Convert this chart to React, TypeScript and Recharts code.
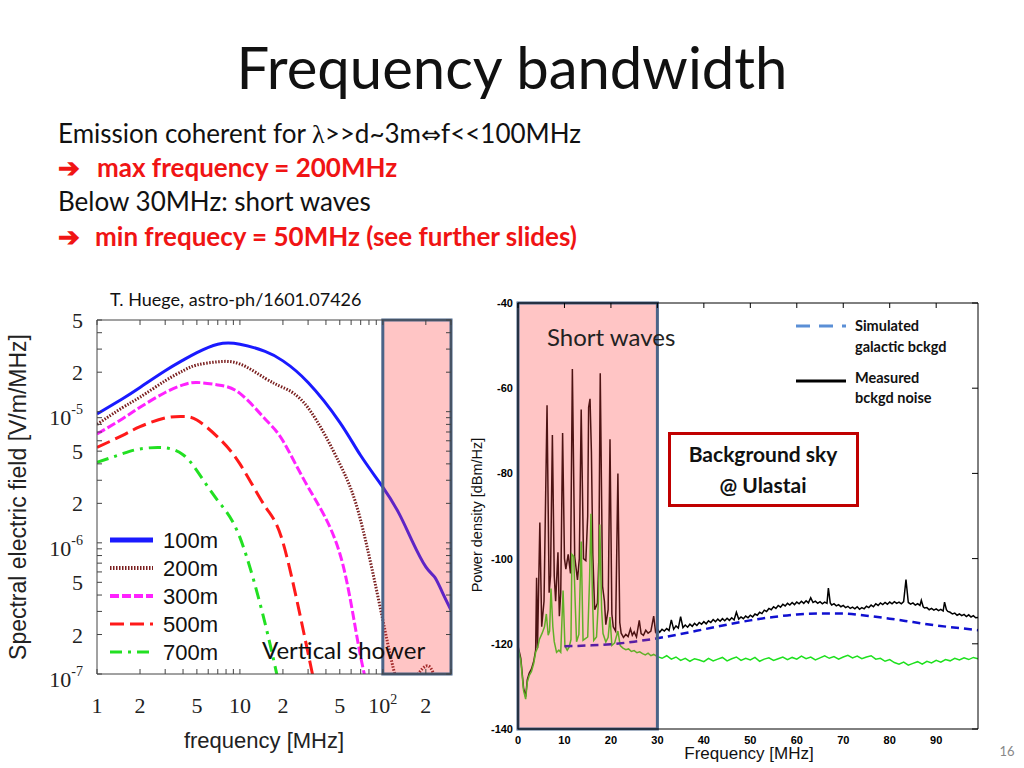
import React from 'react'
import { LineChart, Line, XAxis, YAxis, ReferenceArea, Legend } from 'recharts'

// ---- left plot: radio spectra of a vertical shower (T. Huege), log-log ----
const huegeFreq = [1, 1.5, 2, 3, 4, 5, 7, 10, 15, 20, 30, 50, 70, 100, 130, 160, 200, 230, 260, 300]
const field100m = [9.6e-6, 1.25e-5, 1.53e-5, 2.05e-5, 2.47e-5, 2.82e-5, 3.27e-5, 3.27e-5, 2.88e-5, 2.44e-5, 1.67e-5, 8.3e-6, 4.63e-6, 2.66e-6, 1.67e-6, 1.04e-6, 6.55e-7, 5.5e-7, 4.23e-7, 3.07e-7]
const field200m = [8.0e-6, 1.07e-5, 1.29e-5, 1.72e-5, 2.05e-5, 2.27e-5, 2.4e-5, 2.31e-5, 1.8e-5, 1.53e-5, 1.07e-5, 4.0e-6, 1.48e-6, 2.58e-7, 8e-8, 8.5e-8, 1.15e-7, 9.5e-8, 6e-8, 4e-8]
const field300m = [6.76e-6, 8.8e-6, 1.08e-5, 1.4e-5, 1.6e-5, 1.67e-5, 1.6e-5, 1.38e-5, 8.8e-6, 6.0e-6, 2.66e-6, 8.3e-7, 1.35e-7, 3e-8, null, null, null, null, null, null]
const field500m = [5.35e-6, 6.57e-6, 7.69e-6, 8.95e-6, 9.2e-6, 8.65e-6, 6.4e-6, 4.0e-6, 1.9e-6, 1.01e-6, 1.44e-7, 1e-8, null, null, null, null, null, null, null, null]
const field700m = [4.11e-6, 4.77e-6, 5.2e-6, 5.3e-6, 4.7e-6, 3.55e-6, 2.1e-6, 1.1e-6, 2.43e-7, 6e-8, null, null, null, null, null, null, null, null, null, null]

const huegeTicksX = [1, 2, 5, 10, 20, 50, 100, 200]
const huegeMinorX = [1, 2, 3, 4, 5, 6, 7, 8, 9, 10, 20, 30, 40, 50, 60, 70, 80, 90, 100, 200, 300]
const huegeTicksY = [1e-7, 2e-7, 5e-7, 1e-6, 2e-6, 5e-6, 1e-5, 2e-5, 5e-5]
const huegeMinorY = [
  1e-7, 2e-7, 3e-7, 4e-7, 5e-7, 6e-7, 7e-7, 8e-7, 9e-7,
  1e-6, 2e-6, 3e-6, 4e-6, 5e-6, 6e-6, 7e-6, 8e-6, 9e-6,
  1e-5, 2e-5, 3e-5, 4e-5, 5e-5,
]

// ---- right plot: background at Ulastai, [MHz, dBm/Hz] ----
const measuredNoise: [number, number][] = [
  [0, -120.5], [0.6, -123.4], [1.2, -130.4], [1.65, -132.4], [2.0, -128.4], [2.4, -126.9], [2.9, -125.9], [3.4, -124], [3.8, -121.5],
  [4.0, -104.5], [4.2, -121], [4.7, -91.5], [5.1, -116], [5.6, -110], [6.25, -64], [6.7, -108], [7.0, -104], [7.4, -71], [7.8, -104],
  [8.1, -110], [8.6, -98.5], [8.9, -113.5], [9.2, -108], [9.6, -70.5], [10.0, -100], [10.3, -102.5], [10.8, -99], [11.3, -103.5],
  [11.7, -55.5], [12.2, -99.5], [12.8, -105], [13.2, -100], [13.6, -65], [14.1, -100], [14.6, -100.5], [15.0, -90], [15.2, -64.5],
  [15.5, -62.5], [15.8, -75], [16.1, -99], [16.5, -112], [17.1, -110.5], [17.4, -100], [17.7, -56.5], [18.2, -106.5], [18.6, -110],
  [18.9, -115.5], [19.4, -112], [19.8, -72], [20.2, -113], [20.5, -116], [21.0, -117], [21.5, -80], [21.9, -115], [22.2, -117.5],
  [22.7, -118.5], [23.2, -117.8], [23.7, -118.3], [24.2, -116.5], [24.6, -118], [25.0, -117.2], [25.5, -118.4], [26.1, -114.5],
  [26.5, -117.6], [27.0, -118], [27.5, -116.8], [28.0, -117.5], [28.6, -117], [29.2, -113.5], [29.6, -117.2], [30, -116.5],
  [30.5, -117.3], [31, -116.6], [31.5, -117.0], [32, -116.4], [32.5, -116.9], [33, -114.4], [33.5, -116.6], [34, -115.8], [34.5, -116.3],
  [35, -113.6], [35.5, -116.2], [36, -115.6], [36.5, -116.1], [37, -115.4], [37.5, -115.9], [38, -115.2], [38.5, -115.7], [39, -115.0],
  [39.5, -115.4], [40, -114.8], [40.5, -115.3], [41, -114.6], [41.5, -115.0], [42, -114.3], [42.5, -114.8], [43, -114.2], [43.5, -114.7],
  [44, -114.1], [44.5, -114.6], [45, -114.0], [45.5, -114.5], [46, -113.9], [46.5, -114.4], [47, -112.6], [47.5, -114.2], [48, -113.7],
  [48.5, -114.1], [49, -113.5], [49.5, -113.9], [50, -113.3], [50.5, -113.7], [51, -113.0], [51.5, -113.3], [52, -112.6], [52.5, -112.9],
  [53, -112.1], [53.5, -112.4], [54, -111.7], [54.5, -112.0], [55, -111.3], [55.5, -111.7], [56, -111.0], [56.5, -111.4], [57, -110.7],
  [57.5, -111.1], [58, -110.5], [58.5, -110.9], [59, -110.3], [59.5, -110.8], [60, -110.2], [60.5, -110.6], [61, -110.0], [61.5, -110.5],
  [62, -109.9], [62.5, -110.4], [63, -109.2], [63.5, -110.3], [64, -110.0], [64.5, -110.5], [65, -110.1], [65.5, -110.6], [66, -110.2],
  [66.5, -110.5], [66.8, -106.9], [67.2, -110.4], [67.5, -110.9], [68, -110.6], [68.5, -111.1], [69, -110.8], [69.5, -111.3], [70, -111.0],
  [70.5, -111.5], [71, -111.2], [71.5, -111.7], [72, -111.4], [72.5, -111.8], [73, -111.3], [73.5, -111.9], [74, -111.5], [74.5, -111.8],
  [75, -111.2], [75.5, -111.5], [76, -110.9], [76.5, -111.3], [77, -110.6], [77.5, -111.0], [78, -110.4], [78.5, -110.8], [79, -110.3],
  [79.5, -110.7], [80, -110.2], [80.5, -110.6], [81, -110.1], [81.5, -110.5], [82, -110.2], [82.5, -110.6], [83, -110.1], [83.5, -104.9],
  [84, -110.3], [84.5, -110.7], [85, -110.4], [85.5, -110.9], [86, -110.6], [86.5, -111.0], [86.8, -109.8], [87.2, -111.3], [87.5, -111.6],
  [88, -111.5], [88.5, -112.0], [89, -111.7], [89.5, -112.1], [90, -111.8], [90.5, -112.2], [91, -111.9], [91.5, -112.3], [91.8, -110.2],
  [92.2, -112.0], [92.5, -112.4], [93, -112.6], [93.5, -113.0], [94, -112.8], [94.5, -113.3], [95, -113.0], [95.5, -113.4], [96, -113.1],
  [96.5, -113.6], [97, -113.2], [97.5, -113.7], [98, -113.4], [98.5, -113.9], [99, -113.8],
]
const greenNoise: [number, number][] = [
  [0, -121], [0.6, -124], [1.2, -131], [1.65, -133], [2.0, -129], [2.4, -127.5], [2.9, -126.5], [3.4, -124.5], [3.8, -122], [4.2, -121],
  [4.6, -119], [5.2, -117.5], [5.7, -116], [6.1, -113], [6.5, -118], [6.8, -117], [7.1, -107], [7.5, -116], [7.8, -119.5], [8.3, -122],
  [8.8, -121.5], [9.2, -122], [9.7, -107.5], [10.1, -120.5], [10.6, -121.5], [11.0, -120.8], [11.4, -119], [11.6, -99], [12.0, -99.5],
  [12.3, -110], [12.6, -119.5], [13.1, -117.8], [13.6, -96], [14.0, -119.2], [14.5, -118.8], [15.0, -118.4], [15.4, -105], [15.7, -89.5],
  [16.0, -108], [16.3, -119.2], [16.9, -118.4], [17.3, -110], [17.6, -92], [18.0, -112], [18.3, -117.6], [18.9, -119.6], [19.4, -118.5],
  [19.8, -113.7], [20.2, -120.4], [20.8, -119.8], [21.5, -117], [22.0, -120.4], [22.6, -121], [23.2, -121.4], [23.8, -121.2], [24.4, -121.8],
  [25.0, -121.6], [25.6, -122.1], [26.2, -121.9], [26.8, -122.3], [27.4, -122.6], [28.0, -122.2], [28.6, -122.8], [29.2, -122.5], [30, -123],
  [31, -123.4], [32, -122.8], [33, -123.6], [34, -123.1], [35, -123.9], [36, -123.4], [37, -124.1], [38, -123.5], [39, -123.8], [40, -124.2],
  [41, -123.4], [42, -124], [43, -123.6], [44, -123.2], [45, -124], [46, -123.5], [47, -123.1], [48, -123.9], [49, -123.4], [50, -123.8],
  [51, -123.2], [52, -124.1], [53, -123.6], [54, -123.3], [55, -123.9], [56, -123.5], [57, -123.1], [58, -123.7], [59, -123.2], [60, -123.6],
  [61, -122.9], [62, -123.5], [63, -123.1], [64, -123.8], [65, -123.3], [66, -122.8], [67, -123.4], [68, -123], [69, -123.6], [70, -123.1],
  [71, -122.7], [72, -123.3], [73, -122.9], [74, -123.5], [75, -123.1], [76, -122.8], [77, -123.6], [78, -123.4], [79, -124.1], [80, -123.7],
  [81, -124.4], [82, -124.8], [83, -124.3], [84, -125], [85, -124.6], [86, -124.2], [87, -124.8], [88, -124.1], [89, -124.5], [90, -123.9],
  [91, -124.3], [92, -123.7], [93, -124], [94, -123.4], [95, -123.8], [96, -123.3], [97, -123.7], [98, -123.2], [99, -123.5],
]
const simulatedGalactic: [number, number][] = [
  [10, -120.6], [15, -120.4], [20, -120.1], [25, -119.5], [30, -118.7], [35, -117.7], [40, -116.6], [45, -115.5], [50, -114.5],
  [55, -113.7], [60, -113.1], [65, -112.9], [70, -112.9], [75, -113.4], [80, -114.1], [85, -114.9], [90, -115.7], [95, -116.3], [99, -116.8],
]
const ulastaiTicksX = [0, 10, 20, 30, 40, 50, 60, 70, 80, 90]
const ulastaiTicksY = [-140, -120, -100, -80, -60, -40]

const serif = "'Liberation Serif', 'Times New Roman', serif"
const arial = "'Liberation Sans', Arial, sans-serif"
const slideFont = "Lato, 'Open Sans', sans-serif"

const huegeSeries = [
  { key: 'd100', label: '100m', values: field100m, color: '#1a1aff', dash: undefined, legendWidth: 5 },
  { key: 'd200', label: '200m', values: field200m, color: '#7a1f1f', dash: '1.5 1.5', legendWidth: 4 },
  { key: 'd300', label: '300m', values: field300m, color: '#ff22ff', dash: '9 3', legendWidth: 4 },
  { key: 'd500', label: '500m', values: field500m, color: '#ff1a1a', dash: '14 6', legendWidth: 3 },
  { key: 'd700', label: '700m', values: field700m, color: '#22e022', dash: '12 6 3 6', legendWidth: 3 },
]

const huegeData = huegeFreq.map((f, i) => {
  const row: Record<string, number | null> = { f }
  huegeSeries.forEach((s) => { row[s.key] = s.values[i] })
  return row
})

const toRows = (pts: [number, number][]) => pts.map(([f, db]) => ({ f, db }))

function splitLog(v: number) {
  const exp = Math.floor(Math.log10(v) + 1e-9)
  const mant = Math.round(v / Math.pow(10, exp))
  return { exp, mant }
}

function HuegeXTick({ x, y, payload }: any) {
  const { exp, mant } = splitLog(payload.value)
  let content: React.ReactNode = String(mant)
  if (mant === 1 && exp === 1) content = '10'
  if (mant === 1 && exp === 2) content = <>10<tspan dy={-9} fontSize={14}>2</tspan></>
  return (
    <text x={x} y={y} dy={16} textAnchor="middle" fontFamily={serif} fontSize={22} fill="#222">{content}</text>
  )
}

function HuegeYTick({ x, y, payload }: any) {
  const { exp, mant } = splitLog(payload.value)
  if (mant === 1) {
    return (
      <text x={x} y={y} dy={13} textAnchor="end" fontFamily={serif} fontSize={22} fill="#222">
        10<tspan dy={-11} fontSize={14}>{exp}</tspan>
      </text>
    )
  }
  return <text x={x} y={y} dy={8} textAnchor="end" fontFamily={serif} fontSize={22} fill="#222">{mant}</text>
}

function HuegeLegend() {
  return (
    <svg width={130} height={142}>
      {huegeSeries.map((s, i) => (
        <g key={s.key}>
          <line x1={2} x2={45} y1={12 + i * 28} y2={12 + i * 28} stroke={s.color} strokeWidth={s.legendWidth} strokeDasharray={s.dash} />
          <text x={55} y={12 + i * 28} dy={8} fontFamily={arial} fontSize={22} fill="#111">{s.label}</text>
        </g>
      ))}
    </svg>
  )
}

function UlastaiLegend() {
  const t = { fontFamily: slideFont, fontSize: 14.5, fontWeight: 700, fill: '#111' } as const
  return (
    <svg width={200} height={100}>
      <line x1={0} x2={50} y1={10} y2={10} stroke="#5b8fd6" strokeWidth={3} strokeDasharray="14 9" />
      <text x={59} y={15} {...t}>Simulated</text>
      <text x={59} y={36} {...t}>galactic bckgd</text>
      <line x1={0} x2={50} y1={65} y2={65} stroke="#000" strokeWidth={3} />
      <text x={59} y={67} {...t}>Measured</text>
      <text x={59} y={87} {...t}>bckgd noise</text>
    </svg>
  )
}

const logX = { type: 'number' as const, scale: 'log' as const, domain: [1, 300], allowDataOverflow: true, dataKey: 'f' }
const logY = { type: 'number' as const, scale: 'log' as const, domain: [1e-7, 5e-5], allowDataOverflow: true }
const blank = () => ''

function HuegeChart() {
  return (
    <LineChart width={470} height={478} data={huegeData} margin={{ top: 30, right: 19, left: 17, bottom: 64 }}>
      <XAxis {...logX} ticks={huegeTicksX} tick={<HuegeXTick />} tickLine={false} tickSize={6} tickMargin={17} height={30}
        axisLine={{ stroke: '#444' }} />
      <XAxis {...logX} xAxisId="bt" mirror ticks={huegeMinorX} tickFormatter={blank} tickSize={5} axisLine={false} tickLine={{ stroke: '#444' }} />
      <XAxis {...logX} xAxisId="top" orientation="top" mirror ticks={huegeMinorX} tickFormatter={blank} tickSize={5}
        axisLine={{ stroke: '#444' }} tickLine={{ stroke: '#444' }} />
      <YAxis {...logY} ticks={huegeTicksY} tick={<HuegeYTick />} tickLine={false} tickSize={6} tickMargin={8} width={80}
        axisLine={{ stroke: '#444' }} />
      <YAxis {...logY} yAxisId="lt" mirror ticks={huegeMinorY} tickFormatter={blank} tickSize={5} axisLine={false} tickLine={{ stroke: '#444' }} />
      <YAxis {...logY} yAxisId="rt" orientation="right" mirror ticks={huegeMinorY} tickFormatter={blank} tickSize={5}
        axisLine={{ stroke: '#444' }} tickLine={{ stroke: '#444' }} />
      {huegeSeries.map((s) => (
        <Line key={s.key} dataKey={s.key} type="natural" stroke={s.color} strokeWidth={3} strokeDasharray={s.dash}
          dot={false} isAnimationActive={false} />
      ))}
      <ReferenceArea x1={100} x2={300} fill="#ff4040" fillOpacity={0.3} stroke="#4a6488" strokeWidth={3} zIndex={450} />
      <Legend layout="vertical" align="center" verticalAlign="middle" content={<HuegeLegend />}
        wrapperStyle={{ left: 108, top: 238, width: 130 }} />
    </LineChart>
  )
}

function UlastaiChart() {
  const tickStyle = { fontFamily: arial, fontSize: 11, fontWeight: 700, fill: '#000' }
  const numX = { type: 'number' as const, domain: [0, 99], allowDataOverflow: true, dataKey: 'f' }
  const numY = { type: 'number' as const, domain: [-140, -40], allowDataOverflow: true }
  return (
    <LineChart width={540} height={478} margin={{ top: 13, right: 32, left: 8, bottom: 19 }}>
      <XAxis {...numX} ticks={ulastaiTicksX} tick={tickStyle} tickLine={false} tickSize={0} tickMargin={7} height={20}
        axisLine={{ stroke: '#000' }} />
      <XAxis {...numX} xAxisId="top" orientation="top" mirror ticks={ulastaiTicksX} tickFormatter={blank} tickSize={5}
        axisLine={{ stroke: '#000' }} tickLine={{ stroke: '#000' }} />
      <YAxis {...numY} ticks={ulastaiTicksY} tick={tickStyle} tickLine={false} tickSize={0} tickMargin={5} width={40}
        axisLine={{ stroke: '#000' }} />
      <YAxis {...numY} yAxisId="rt" orientation="right" mirror ticks={ulastaiTicksY} tickFormatter={blank} tickSize={6}
        axisLine={{ stroke: '#000' }} tickLine={{ stroke: '#000' }} />
      <Line data={toRows(measuredNoise)} dataKey="db" type="linear" stroke="#000" strokeWidth={1.5} dot={false} isAnimationActive={false} />
      <Line data={toRows(greenNoise)} dataKey="db" type="linear" stroke="#1ee01e" strokeWidth={1.5} dot={false} isAnimationActive={false} />
      <Line data={toRows(simulatedGalactic)} dataKey="db" type="monotone" stroke="#1010d0" strokeWidth={2.5} strokeDasharray="8 5"
        dot={false} isAnimationActive={false} />
      <ReferenceArea x1={0} x2={30} fill="#ff4040" fillOpacity={0.3} stroke="#4a6488" strokeWidth={3} zIndex={450} />
      <Legend layout="vertical" align="center" verticalAlign="middle" content={<UlastaiLegend />}
        wrapperStyle={{ left: 326, top: 26, width: 200 }} />
    </LineChart>
  )
}

export default function App() {
  const red = '#f01414'
  return (
    <div style={{ position: 'absolute', left: 0, top: 0, width: 1024, height: 768, background: '#fff', overflow: 'hidden' }}>
      <div style={{ position: 'absolute', left: 0, top: 290 }}>
        <HuegeChart />
      </div>
      <div style={{ position: 'absolute', left: 470, top: 290 }}>
        <UlastaiChart />
      </div>
      <svg width={1024} height={768} style={{ position: 'absolute', left: 0, top: 0, pointerEvents: 'none' }}>
        <text x={512} y={89} textAnchor="middle" fontFamily={slideFont} fontSize={58} fill="#111">Frequency bandwidth</text>
        <g fontFamily={slideFont} fontSize={26} fill="#111">
          <text x={58} y={143}>
            Emission coherent for <tspan fontFamily={serif}>λ</tspan>&gt;&gt;d~3m<tspan fontFamily="'DejaVu Sans'" fontSize={24}>⇔</tspan>f&lt;&lt;100MHz
          </text>
          <text x={58} y={177} fill={red} fontWeight={700}>➔<tspan x={97}>max frequency = 200MHz</tspan></text>
          <text x={58} y={211}>Below 30MHz: short waves</text>
          <text x={58} y={246} fill={red} fontWeight={700}>➔<tspan x={95}>min frequecy = 50MHz (see further slides)</tspan></text>
        </g>
        <text x={110} y={306} fontFamily={slideFont} fontSize={18} fill="#111">T. Huege, astro-ph/1601.07426</text>
        <text transform="translate(26 497) rotate(-90)" textAnchor="middle" fontFamily={arial} fontSize={23} fill="#222">
          Spectral electric field [V/m/MHz]
        </text>
        <text x={264} y={748} textAnchor="middle" fontFamily={arial} fontSize={22} fill="#222">frequency [MHz]</text>
        <text x={262} y={659} fontFamily={slideFont} fontSize={24} fill="#111">Vertical shower</text>
        <text x={547} y={346} fontFamily={slideFont} fontSize={24} fill="#222">Short waves</text>
        <text transform="translate(482 515) rotate(-90)" textAnchor="middle" fontFamily={arial} fontSize={14.5} fill="#111">
          Power density [dBm/Hz]
        </text>
        <text x={749} y={759} textAnchor="middle" fontFamily={arial} fontSize={17} fill="#111">Frequency [MHz]</text>
        <rect x={669.5} y={433.5} width={188} height={72} fill="#fff" stroke="#c00000" strokeWidth={3} />
        <g fontFamily={slideFont} fontSize={21} fontWeight={700} fill="#111" textAnchor="middle">
          <text x={763} y={462}>Background sky</text>
          <text x={763} y={493}>@ Ulastai</text>
        </g>
        <text x={1007} y={756} textAnchor="middle" fontFamily={slideFont} fontSize={13} fill="#888">16</text>
      </svg>
    </div>
  )
}
